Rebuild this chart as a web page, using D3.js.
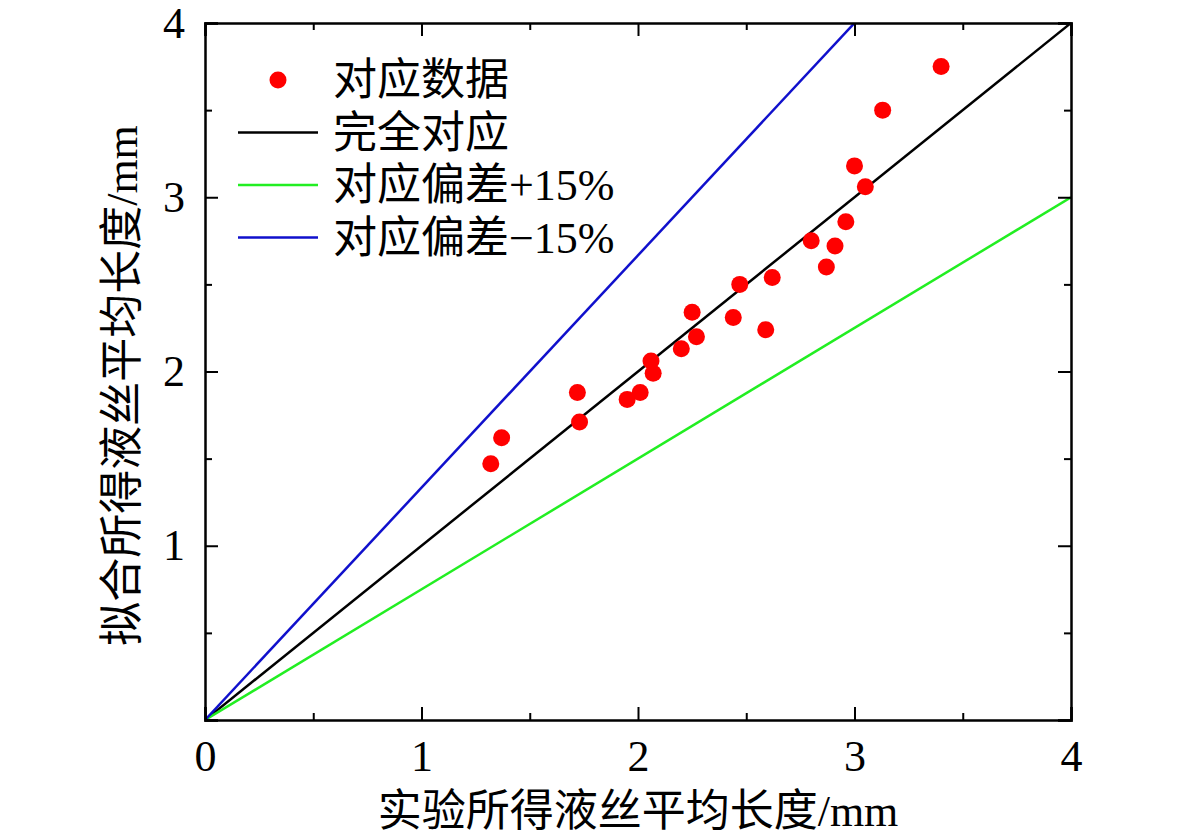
<!DOCTYPE html>
<html>
<meta charset="utf-8">
<style>
  body { margin: 0; background: #fff; }
  text { font-family: "Liberation Serif", "Noto Sans CJK SC", serif; fill: #000; }
</style>
<body>
<script src="https://d3js.org/d3.v7.min.js"></script>
<script>
  // measured vs fitted mean ligament length (mm)
  const expX = [1.32, 1.37, 1.72, 1.73, 1.95, 2.01, 2.06, 2.07, 2.20, 2.25, 2.27, 2.44, 2.47, 2.59, 2.62, 2.80, 2.87, 2.91, 2.96, 3.00, 3.05, 3.13, 3.40];
  const fitY = [1.47, 1.62, 1.88, 1.71, 1.84, 1.88, 2.06, 1.99, 2.13, 2.34, 2.20, 2.31, 2.50, 2.24, 2.54, 2.75, 2.60, 2.72, 2.86, 3.18, 3.06, 3.50, 3.75];
  const refSlopes = [1, 0.75, 1 / 0.75];
  const refColors = ["#000000", "#22ee22", "#1010cc"];
  const legendLabels = ["对应数据", "完全对应", "对应偏差+15%", "对应偏差−15%"];
  const tickValues = [0, 1, 2, 3, 4];

  const width = 1181, height = 838;
  const margin = {left: 205, right: 110, top: 23, bottom: 118};

  const svg = d3.select("body").append("svg")
    .attr("width", width)
    .attr("height", height);

  const x = d3.scaleLinear().domain([0, 4]).range([margin.left, width - margin.right]);
  const y = d3.scaleLinear().domain([0, 4]).range([height - margin.bottom, margin.top]);

  svg.append("clipPath").attr("id", "plot")
    .append("rect")
    .attr("x", x(0)).attr("y", y(4))
    .attr("width", x(4) - x(0)).attr("height", y(0) - y(4));

  // reference lines
  const g = svg.append("g").attr("clip-path", "url(#plot)");
  refSlopes.forEach((k, i) => {
    g.append("line")
      .attr("x1", x(0)).attr("y1", y(0))
      .attr("x2", x(4)).attr("y2", y(4 * k))
      .attr("stroke", refColors[i])
      .attr("stroke-width", 2.5);
  });

  // data points
  svg.append("g").selectAll("circle")
    .data(expX.map((d, i) => [d, fitY[i]]))
    .join("circle")
    .attr("cx", d => x(d[0]))
    .attr("cy", d => y(d[1]))
    .attr("r", 8.5)
    .attr("fill", "#ff0000");

  // frame and inward ticks
  const minor = d3.range(0.5, 4, 1);
  const axes = [
    {axis: d3.axisBottom(x), pos: `translate(0,${y(0)})`, labels: true},
    {axis: d3.axisTop(x), pos: `translate(0,${y(4)})`, labels: false},
    {axis: d3.axisLeft(y), pos: `translate(${x(0)},0)`, labels: true},
    {axis: d3.axisRight(y), pos: `translate(${x(4)},0)`, labels: false}
  ];
  axes.forEach((a, i) => {
    const major = svg.append("g").attr("transform", a.pos)
      .call(a.axis.tickValues(tickValues).tickSize(-13).tickPadding(20)
        .tickFormat(a.labels ? d3.format("d") : ""));
    major.select(".domain").attr("stroke-width", 2.5);
    major.selectAll(".tick line").attr("stroke-width", 2);
    major.selectAll(".tick text").style("font-size", "44px");
    if (i === 2) {
      major.selectAll(".tick").filter(d => d === 0).select("text").remove();
    }
    const mn = svg.append("g").attr("transform", a.pos)
      .call(a.axis.tickValues(minor).tickSize(-7).tickFormat(""));
    mn.select(".domain").remove();
    mn.selectAll(".tick line").attr("stroke-width", 2);
  });

  // axis titles
  svg.append("text")
    .attr("x", (x(0) + x(4)) / 2)
    .attr("y", 826)
    .attr("text-anchor", "middle")
    .style("font-size", "44px")
    .text("实验所得液丝平均长度/mm");

  svg.append("text")
    .attr("transform", `translate(137,${(y(0) + y(4)) / 2 + 14}) rotate(-90)`)
    .attr("text-anchor", "middle")
    .style("font-size", "44px")
    .text("拟合所得液丝平均长度/mm");

  // legend
  const legend = svg.append("g");
  legendLabels.forEach((label, i) => {
    const ly = 80 + i * 52.5;
    if (i === 0) {
      legend.append("circle").attr("cx", 278).attr("cy", ly).attr("r", 8.5).attr("fill", "#ff0000");
    } else {
      legend.append("line")
        .attr("x1", 238).attr("x2", 318)
        .attr("y1", ly).attr("y2", ly)
        .attr("stroke", refColors[i - 1]).attr("stroke-width", 2.5);
    }
    legend.append("text")
      .attr("x", 333).attr("y", ly + 15)
      .style("font-size", "44px")
      .text(label);
  });
</script>
</body>
</html>
